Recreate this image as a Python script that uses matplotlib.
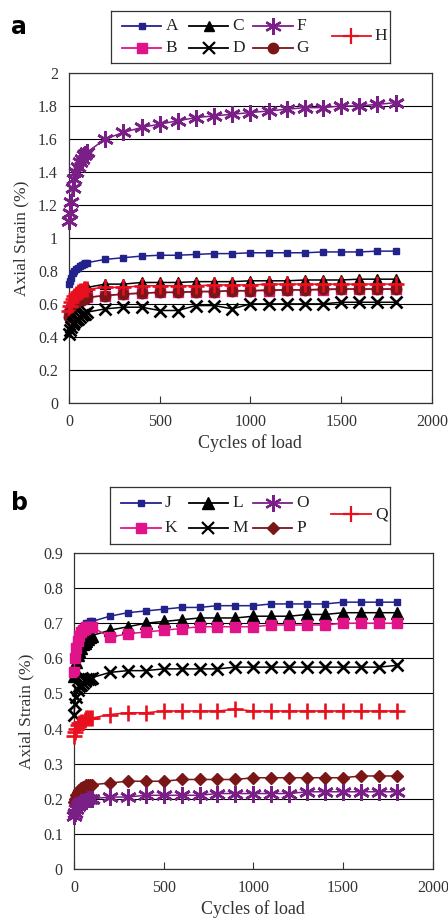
import matplotlib.pyplot as plt
from matplotlib.lines import Line2D

plt.rcParams['font.family'] = ['Liberation Serif', 'DejaVu Serif']

# cycles of load (same sampling for every series)
cycles = [1, 5, 10, 20, 30, 40, 50, 60, 70, 80, 90, 100,
          200, 300, 400, 500, 600, 700, 800, 900, 1000,
          1100, 1200, 1300, 1400, 1500, 1600, 1700, 1800]

# panel a
strain_A = [0.72, 0.74, 0.76, 0.79, 0.80, 0.81, 0.82, 0.83, 0.835, 0.84, 0.845, 0.85,
            0.87, 0.88, 0.89, 0.895, 0.895, 0.90, 0.905, 0.905, 0.91,
            0.91, 0.91, 0.91, 0.915, 0.915, 0.915, 0.92, 0.92]
strain_B = [0.54, 0.56, 0.57, 0.59, 0.60, 0.61, 0.62, 0.625, 0.63, 0.635, 0.64, 0.64,
            0.65, 0.66, 0.665, 0.67, 0.67, 0.675, 0.675, 0.68, 0.68,
            0.68, 0.685, 0.685, 0.685, 0.69, 0.69, 0.69, 0.69]
strain_C = [0.57, 0.60, 0.62, 0.64, 0.66, 0.67, 0.68, 0.69, 0.69, 0.70, 0.70, 0.70,
            0.72, 0.72, 0.73, 0.73, 0.73, 0.735, 0.735, 0.735, 0.74,
            0.74, 0.74, 0.745, 0.745, 0.745, 0.75, 0.75, 0.75]
strain_D = [0.42, 0.44, 0.46, 0.48, 0.49, 0.50, 0.51, 0.52, 0.53, 0.54, 0.54, 0.55,
            0.57, 0.58, 0.58, 0.56, 0.56, 0.59, 0.59, 0.57, 0.60,
            0.60, 0.60, 0.60, 0.60, 0.61, 0.61, 0.61, 0.61]
strain_F = [1.10, 1.15, 1.22, 1.30, 1.36, 1.40, 1.43, 1.46, 1.48, 1.50, 1.51, 1.52,
            1.60, 1.64, 1.67, 1.69, 1.71, 1.73, 1.74, 1.75, 1.76,
            1.77, 1.78, 1.79, 1.79, 1.80, 1.80, 1.81, 1.82]
strain_G = [0.52, 0.55, 0.57, 0.59, 0.60, 0.61, 0.62, 0.62, 0.63, 0.63, 0.635, 0.64,
            0.65, 0.66, 0.665, 0.67, 0.67, 0.675, 0.675, 0.68, 0.68,
            0.685, 0.685, 0.685, 0.69, 0.69, 0.69, 0.69, 0.69]
strain_H = [0.56, 0.59, 0.61, 0.63, 0.65, 0.66, 0.67, 0.68, 0.68, 0.69, 0.69, 0.69,
            0.70, 0.70, 0.71, 0.71, 0.71, 0.71, 0.715, 0.715, 0.715,
            0.72, 0.72, 0.72, 0.72, 0.72, 0.72, 0.72, 0.72]

# panel b
strain_J = [0.57, 0.61, 0.64, 0.66, 0.675, 0.685, 0.69, 0.695, 0.70, 0.70, 0.705, 0.705,
            0.72, 0.73, 0.735, 0.74, 0.745, 0.745, 0.75, 0.75, 0.75,
            0.755, 0.755, 0.755, 0.755, 0.76, 0.76, 0.76, 0.76]
strain_K = [0.56, 0.60, 0.63, 0.65, 0.665, 0.675, 0.68, 0.685, 0.69, 0.69, 0.69, 0.69,
            0.66, 0.67, 0.675, 0.68, 0.685, 0.69, 0.69, 0.69, 0.69,
            0.695, 0.695, 0.695, 0.695, 0.70, 0.70, 0.70, 0.70]
strain_L = [0.55, 0.57, 0.59, 0.61, 0.62, 0.63, 0.64, 0.645, 0.65, 0.655, 0.66, 0.665,
            0.68, 0.69, 0.70, 0.705, 0.71, 0.715, 0.715, 0.715, 0.72,
            0.72, 0.72, 0.725, 0.725, 0.73, 0.73, 0.73, 0.73]
strain_M = [0.44, 0.47, 0.49, 0.51, 0.52, 0.525, 0.53, 0.535, 0.54, 0.54, 0.54, 0.545,
            0.56, 0.565, 0.565, 0.57, 0.57, 0.57, 0.57, 0.575, 0.575,
            0.575, 0.575, 0.575, 0.575, 0.575, 0.575, 0.575, 0.58]
strain_O = [0.15, 0.16, 0.17, 0.18, 0.185, 0.19, 0.19, 0.195, 0.195, 0.20, 0.20, 0.20,
            0.205, 0.205, 0.21, 0.21, 0.21, 0.21, 0.215, 0.215, 0.215,
            0.215, 0.215, 0.22, 0.22, 0.22, 0.22, 0.22, 0.22]
strain_P = [0.19, 0.20, 0.21, 0.22, 0.225, 0.23, 0.235, 0.235, 0.24, 0.24, 0.24, 0.24,
            0.245, 0.25, 0.25, 0.25, 0.255, 0.255, 0.255, 0.255, 0.26,
            0.26, 0.26, 0.26, 0.26, 0.26, 0.265, 0.265, 0.265]
strain_Q = [0.38, 0.39, 0.40, 0.41, 0.415, 0.42, 0.42, 0.425, 0.43, 0.43, 0.43, 0.43,
            0.44, 0.445, 0.445, 0.45, 0.45, 0.45, 0.45, 0.455, 0.45,
            0.45, 0.45, 0.45, 0.45, 0.45, 0.45, 0.45, 0.45]

NAVY = '#22228a'
MAGENTA = '#e01488'
PURPLE = '#7a1f86'
DARKRED = '#7a1616'
RED = '#e8101e'
ASTER = (6, 2, 0)
THIN = ('x', '+', ASTER)

series_a = [
    ('A', strain_A, NAVY, 's', 3.8),
    ('C', strain_C, 'black', '^', 7.5),
    ('F', strain_F, PURPLE, ASTER, 12),
    ('B', strain_B, MAGENTA, 's', 7.5),
    ('D', strain_D, 'black', 'x', 8.5),
    ('G', strain_G, DARKRED, 'o', 7.5),
    ('H', strain_H, RED, '+', 12),
]
series_b = [
    ('J', strain_J, NAVY, 's', 3.8),
    ('L', strain_L, 'black', '^', 8.5),
    ('O', strain_O, PURPLE, ASTER, 12),
    ('K', strain_K, MAGENTA, 's', 7.5),
    ('M', strain_M, 'black', 'x', 8.5),
    ('P', strain_P, DARKRED, 'D', 6.5),
    ('Q', strain_Q, RED, '+', 12),
]

fig = plt.figure(figsize=(4.48, 9.24), dpi=100)


def draw_panel(rect, series, ymax, ystep, letter, legend_rect, draw_order):
    ax = fig.add_axes(rect)
    lookup = {s[0]: s for s in series}
    for name in draw_order:
        _, y, col, mk, ms = lookup[name]
        ax.plot(cycles, y, color=col, marker=mk, markersize=ms, lw=1.1,
                markeredgecolor=col, markeredgewidth=1.9 if mk in THIN else 1.0,
                clip_on=False, zorder=3)
    ax.set_xlim(0, 2000)
    ax.set_ylim(0, ymax)
    ax.set_xticks([0, 500, 1000, 1500, 2000])
    ticks = [round(i * ystep, 1) for i in range(int(round(ymax / ystep)) + 1)]
    ax.set_yticks(ticks)
    ax.set_yticklabels([('%g' % t) for t in ticks])
    ax.yaxis.grid(True, color='black', lw=0.8)
    ax.set_axisbelow(True)
    ax.tick_params(axis='x', direction='in', length=5, width=0.8, pad=8, labelsize=11.5, colors='#333333')
    ax.tick_params(axis='y', length=0, pad=8, labelsize=11.5, colors='#333333')
    for sp in ax.spines.values():
        sp.set_color('#333333')
        sp.set_linewidth(0.9)
    ax.set_xlabel('Cycles of load', fontsize=13, color='#333333', labelpad=3)
    ax.set_ylabel('Axial Strain (%)', fontsize=12.5, color='#333333', labelpad=6)

    # legend box drawn in its own axes: 3 columns of 2 rows plus the last entry centred
    lax = fig.add_axes(legend_rect)
    lax.set_xlim(0, 1)
    lax.set_ylim(0, 1)
    lax.set_xticks([])
    lax.set_yticks([])
    for sp in lax.spines.values():
        sp.set_color('#333333')
        sp.set_linewidth(0.9)
    col_x = [0.04, 0.28, 0.51, 0.79]
    row_y = [0.72, 0.28]
    for i, (name, _, col, mk, ms) in enumerate(series):
        if i < 6:
            cx = col_x[i % 3]
            cy = row_y[i // 3]
        else:
            cx, cy = col_x[3], 0.52
        lax.add_line(Line2D([cx, cx + 0.14], [cy, cy], color=col, lw=1.3))
        lax.add_line(Line2D([cx + 0.07], [cy], color=col, marker=mk, markersize=ms,
                            markeredgecolor=col,
                            markeredgewidth=1.6 if mk in THIN else 1.0))
        lax.text(cx + 0.155, cy, name, fontsize=12.5, va='center', ha='left', color='#222222')

    fig.text(0.025, legend_rect[1] + legend_rect[3] - 0.004, letter, fontsize=17,
             fontweight='bold', family='DejaVu Sans', va='top', ha='left')
    return ax


draw_panel([0.154, 0.564, 0.810, 0.357], series_a, 2.0, 0.2, 'a',
           [0.248, 0.932, 0.623, 0.056], ['F', 'A', 'C', 'B', 'G', 'H', 'D'])
draw_panel([0.165, 0.0595, 0.801, 0.342], series_b, 0.9, 0.1, 'b',
           [0.246, 0.411, 0.625, 0.062], ['J', 'L', 'K', 'M', 'Q', 'P', 'O'])

fig.savefig('out.png', dpi=100)
